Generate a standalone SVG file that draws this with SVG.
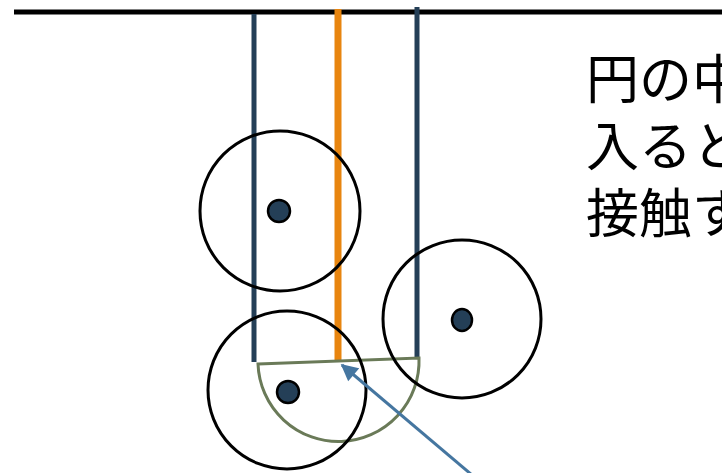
<svg xmlns="http://www.w3.org/2000/svg" width="722" height="473" viewBox="0 0 722 473">
<style>
.ring{fill:none;stroke:#000;stroke-width:3}
.dot{fill:#243F57;stroke:#000;stroke-width:2.5}
.rod{stroke:#243F57;stroke-width:5;fill:none}
.txt{font-family:"Noto Sans CJK JP","Noto Sans CJK SC",sans-serif;font-size:53px;fill:#000}
</style>
<defs>
<marker id="ah" viewBox="0 0 10 10" refX="9" refY="5" markerWidth="18" markerHeight="17" markerUnits="userSpaceOnUse" orient="auto">
<path d="M0,0 L10,5 L0,10 z" fill="#4576A0"/>
</marker>
</defs>
<rect width="722" height="473" fill="#fff"/>
<g id="surface"><line x1="14" y1="12" x2="722" y2="12" stroke="#000" stroke-width="5"/></g>
<g id="rod-left"><line class="rod" x1="254" y1="14" x2="254" y2="362"/></g>
<g id="rod-center"><line x1="338" y1="9" x2="338" y2="361" stroke="#E8850F" stroke-width="7"/></g>
<g id="rod-right"><line class="rod" x1="417" y1="7" x2="417" y2="358"/></g>
<g id="half-disc"><path d="M258,364 L419,358 A80,80 0 0 1 258,364 Z" fill="none" stroke="#6A7A58" stroke-width="3"/></g>
<g id="circle-1"><circle class="ring" cx="280" cy="211" r="80"/><circle class="dot" cx="279" cy="211" r="11"/></g>
<g id="circle-2"><circle class="ring" cx="462" cy="319" r="79"/><ellipse class="dot" cx="462" cy="320" rx="10" ry="11"/></g>
<g id="circle-3"><circle class="ring" cx="287" cy="390" r="79"/><circle class="dot" cx="288" cy="392" r="11"/></g>
<g id="connectors"><line x1="472" y1="475" x2="342" y2="365" stroke="#4576A0" stroke-width="3" marker-end="url(#ah)"/></g>
<g id="label">
<text class="txt" x="586" y="99">円の中</text>
<text class="txt" x="586" y="166">入ると</text>
<text class="txt" x="586" y="233">接触す</text>
</g>
</svg>
